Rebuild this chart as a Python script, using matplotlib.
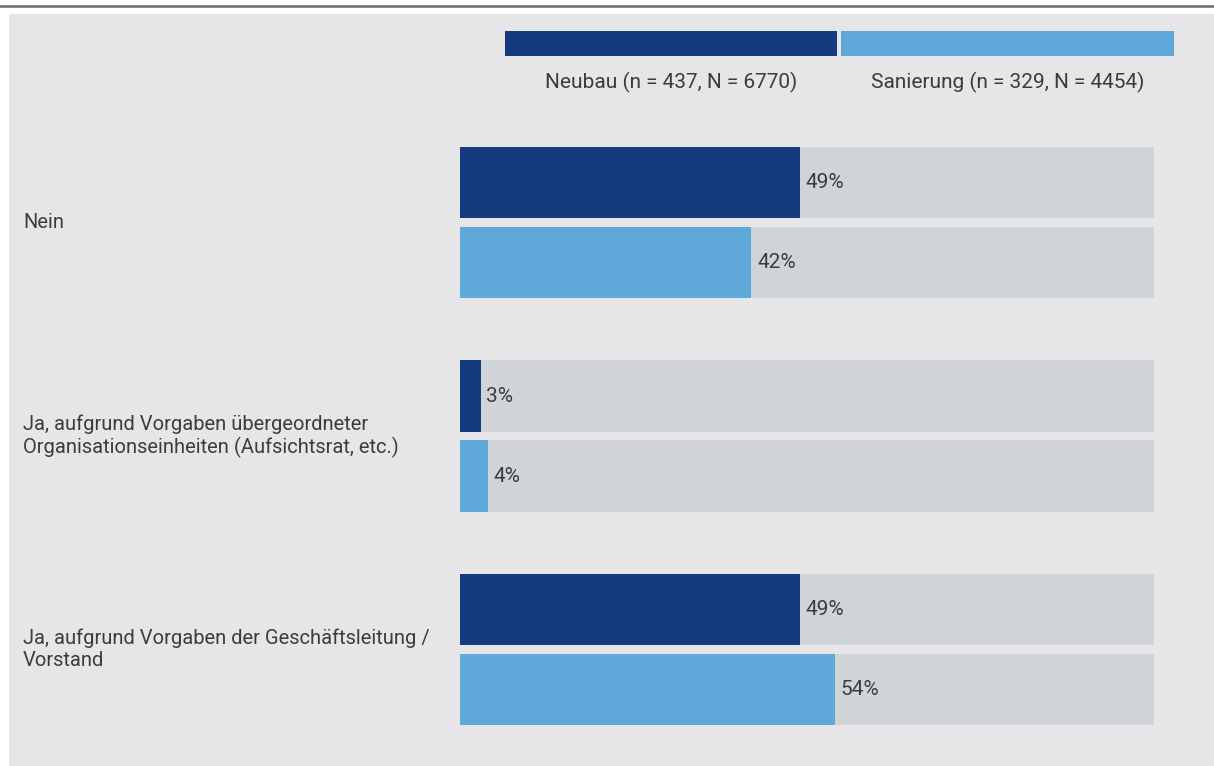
import matplotlib.pyplot as plt
from matplotlib.patches import Rectangle

plt.rcParams['font.family'] = ['Roboto', 'DejaVu Sans']

categories = [
    "Nein",
    "Ja, aufgrund Vorgaben übergeordneter\nOrganisationseinheiten (Aufsichtsrat, etc.)",
    "Ja, aufgrund Vorgaben der Geschäftsleitung /\nVorstand",
]
neubau = [49, 3, 49]
sanierung = [42, 4, 54]
series_labels = ["Neubau (n = 437, N = 6770)", "Sanierung (n = 329, N = 4454)"]

dark = "#143b7f"
light = "#5fa8da"
track = "#d1d4d6"
panel = "#e6e6e9"
text_col = "#3c3c3c"

W, H = 1214, 766
fig = plt.figure(figsize=(W / 100, H / 100), dpi=100)
fig.patch.set_facecolor("white")

# grey panel and rule at the top
fig.add_artist(Rectangle((9 / W, 0), 1 - 9 / W, 1 - 14 / H, transform=fig.transFigure,
                         facecolor=panel, edgecolor="none", zorder=0))
fig.add_artist(plt.Line2D([0, 1], [1 - 6 / H, 1 - 6 / H], transform=fig.transFigure,
                          color="#5f6a72", lw=1.8))

# legend swatches
for x0, x1, c, lab in [(505, 837, dark, series_labels[0]), (841, 1174, light, series_labels[1])]:
    fig.add_artist(Rectangle((x0 / W, 1 - 56 / H), (x1 - x0) / W, 25 / H,
                             transform=fig.transFigure, facecolor=c, edgecolor="none"))
    fig.text((x0 + x1) / 2 / W, 1 - 82 / H, lab, ha="center", va="center",
             fontsize=15, color=text_col)

ax = fig.add_axes([460 / W, 0, 694 / W, 1])
ax.set_xlim(0, 100)
ax.set_ylim(H, 0)
ax.axis("off")

bar_h = 71.5
for i, cat in enumerate(categories):
    center = 222.5 + i * 213.5
    y_top = center - 40
    y_bot = center + 40
    for y, v, c in [(y_top, neubau[i], dark), (y_bot, sanierung[i], light)]:
        ax.barh(y, 100, height=bar_h, left=0, color=track)
        ax.barh(y, v, height=bar_h, left=0, color=c)
        ax.text(v + 0.8, y, f"{v}%", ha="left", va="center", fontsize=15, color=text_col)
    fig.text(23 / W, 1 - center / H, cat, ha="left", va="center", fontsize=14.5,
             color=text_col, linespacing=1.2)

fig.savefig("out.png", dpi=100, facecolor=fig.get_facecolor())
